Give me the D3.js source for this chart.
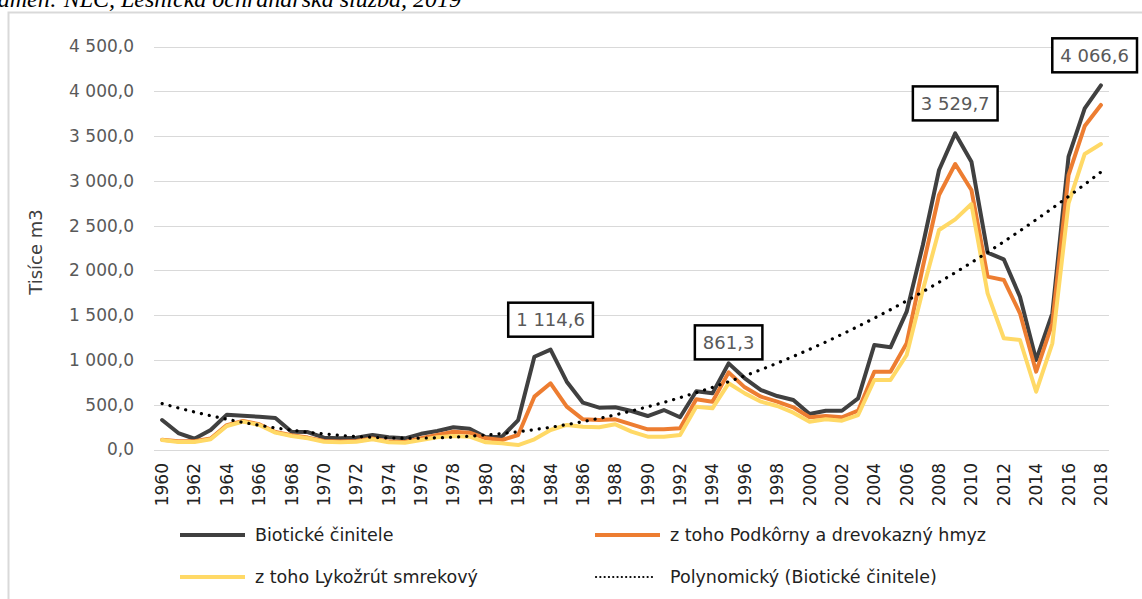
<!DOCTYPE html>
<html><head><meta charset="utf-8">
<script src="https://cdn.jsdelivr.net/npm/d3@7"></script>
<style>
html,body{margin:0;padding:0;background:#fff;}
svg{display:block;}
</style></head>
<body>
<script>
const years = d3.range(1960, 2019);
const biotic = [329,184,120,218,389,377,366,352,199,195,132,125,132,162,136,125,175,206,248,232,136,143,329,1036,1114.6,757,523,467,471,430,374,441,360,650,627,962,795,664,597,553,396,433,433,571,1167,1141,1539,2283,3121,3529.7,3214,2198,2124,1706,1000,1521,3270,3810,4066.6];
const insects = [110,92,92,122,272,318,282,196,160,133,95,88,95,122,88,84,125,162,199,188,125,106,162,590,739,478,337,329,337,281,225,225,237,560,534,861.3,694,590,534,471,360,374,360,433,869,869,1186,2041,2842,3188,2898,1930,1893,1521,869,1409,3065,3612,3847];
const barkBeetle = [106,84,84,114,262,311,274,188,151,125,87,80,87,114,80,76,106,136,151,143,80,69,50,114,218,274,255,248,281,199,143,143,162,478,460,739,627,534,486,411,311,337,322,385,776,776,1055,1781,2451,2570,2741,1744,1242,1223,645,1186,2749,3300,3411];
const yTicks = [0,500,1000,1500,2000,2500,3000,3500,4000,4500];
const seriesNames = ["Biotické činitele","z toho Podkôrny a drevokazný hmyz","z toho Lykožrút smrekový","Polynomický (Biotické činitele)"];
const labelYears = [1984,1995,2009,2018];
const labelSeries = [0,1,0,0];
const caption = "Prameň: NLC, Lesnícka ochranárska služba, 2019";
const yTitle = "Tisíce m3";

const W=1142,H=599;
const svg=d3.select("body").append("svg").attr("width",W).attr("height",H);
const FONT="'DejaVu Sans', sans-serif";
const loc=d3.formatLocale({decimal:",",thousands:"\u00a0",grouping:[3]});
const fmt=loc.format(",.1f");

// frame
svg.append("path").attr("d","M8.5,"+(H+5)+"V12.5H"+(W+5)).attr("fill","none").attr("stroke","#d9d9d9").attr("stroke-width",2);
svg.append("text").attr("x",461).attr("y",7).attr("text-anchor","end")
  .attr("font-family","'Liberation Serif', serif").attr("font-style","italic").attr("font-size",24).attr("fill","#000").text(caption);

const x=d3.scaleBand().domain(years).range([154,1109]).padding(0);
const xc=d=>x(d)+x.bandwidth()/2;
const y=d3.scaleLinear().domain([0,4500]).range([449.5,46.5]);

// grid
svg.append("g").selectAll("line").data(yTicks).join("line")
  .attr("x1",154).attr("x2",1109).attr("y1",d=>Math.round(y(d))+0.5).attr("y2",d=>Math.round(y(d))+0.5)
  .attr("stroke","#d9d9d9").attr("stroke-width",1);
// y axis
const ya=svg.append("g").attr("transform","translate(134,0)")
  .call(d3.axisLeft(y).tickValues(yTicks).tickFormat(fmt).tickSize(0).tickPadding(0));
ya.select(".domain").remove();
ya.selectAll("text").attr("font-family",FONT).attr("font-size",17).attr("fill","#595959");
svg.append("text").attr("transform","translate(35,252) rotate(-90)").attr("text-anchor","middle")
  .attr("dominant-baseline","central").attr("font-family",FONT).attr("font-size",18).attr("fill","#404040").text(yTitle);
// x axis
const xa=svg.append("g").attr("transform","translate(0,449.5)")
  .call(d3.axisBottom(x).tickValues(years.filter(d=>d%2===0)).tickSize(0).tickPadding(0));
xa.select(".domain").remove();
xa.selectAll("text").attr("font-family",FONT).attr("font-size",17).attr("fill","#222")
  .attr("text-anchor","end").attr("dy",null).attr("y",0).attr("x",0)
  .attr("dominant-baseline","central")
  .attr("transform","translate(0,13.5) rotate(-90)");

// lines
const line=d3.line().x((d,i)=>xc(years[i])).y(d=>y(d));
const colors=["#404040","#ED7D31","#FFD966"];
[biotic,insects,barkBeetle].forEach((s,k)=>{
  svg.append("path").attr("d",line(s)).attr("fill","none").attr("stroke",colors[k]).attr("stroke-width",4)
    .attr("stroke-linejoin","round").attr("stroke-linecap","round");
});
// polynomial (order 2) least squares trend of biotic
(function(){
  const n=biotic.length; const xs=d3.range(1,n+1);
  let S=[0,0,0,0,0],T=[0,0,0];
  xs.forEach((t,i)=>{for(let p=0;p<5;p++)S[p]+=Math.pow(t,p);for(let p=0;p<3;p++)T[p]+=Math.pow(t,p)*biotic[i];});
  const A=[[S[0],S[1],S[2],T[0]],[S[1],S[2],S[3],T[1]],[S[2],S[3],S[4],T[2]]];
  for(let i=0;i<3;i++){for(let j=i+1;j<3;j++){const f=A[j][i]/A[i][i];for(let k=i;k<4;k++)A[j][k]-=f*A[i][k];}}
  const c=[0,0,0];for(let i=2;i>=0;i--){let s=A[i][3];for(let k=i+1;k<3;k++)s-=A[i][k]*c[k];c[i]=s/A[i][i];}
  const trend=xs.map(t=>c[0]+c[1]*t+c[2]*t*t);
  svg.append("path").attr("d",line(trend)).attr("fill","none").attr("stroke","#000").attr("stroke-width",3.2)
    .attr("stroke-dasharray","0.1,8").attr("stroke-linecap","round");
})();

// data labels
const allS=[biotic,insects,barkBeetle];
labelYears.forEach((yr,i)=>{
  const v=allS[labelSeries[i]][years.indexOf(yr)];
  const px=xc(yr), py=y(v);
  const g=svg.append("g");
  const t=g.append("text").attr("font-family",FONT).attr("font-size",18).attr("fill","#595959")
    .attr("text-anchor","middle").attr("dominant-baseline","central").text(fmt(v));
  const tw=t.node().getComputedTextLength();
  const bw=tw+16,bh=34;
  let cx=px; if(cx+bw/2>1137) cx=1137-bw/2;
  const by=py-13-bh;
  g.insert("rect","text").attr("x",cx-bw/2).attr("y",by).attr("width",bw).attr("height",bh)
    .attr("fill","#fff").attr("stroke","#000").attr("stroke-width",2.5);
  t.attr("x",cx).attr("y",by+bh/2);
});

// legend
const leg=[{x:180,y:535,k:0},{x:595,y:535,k:1},{x:180,y:577,k:2},{x:595,y:577,k:3}];
leg.forEach(l=>{
  const ln=svg.append("line").attr("x1",l.x).attr("x2",l.x+65).attr("y1",l.y).attr("y2",l.y);
  if(l.k<3) ln.attr("stroke",colors[l.k]).attr("stroke-width",4);
  else ln.attr("x1",l.x+1).attr("x2",l.x+60).attr("stroke","#000").attr("stroke-width",2.2).attr("stroke-dasharray","0.1,4.2").attr("stroke-linecap","round");
  svg.append("text").attr("x",l.x+75).attr("y",l.y).attr("dominant-baseline","central")
    .attr("font-family",FONT).attr("font-size",17.5).attr("fill","#222").text(seriesNames[l.k]);
});
</script>
</body></html>
